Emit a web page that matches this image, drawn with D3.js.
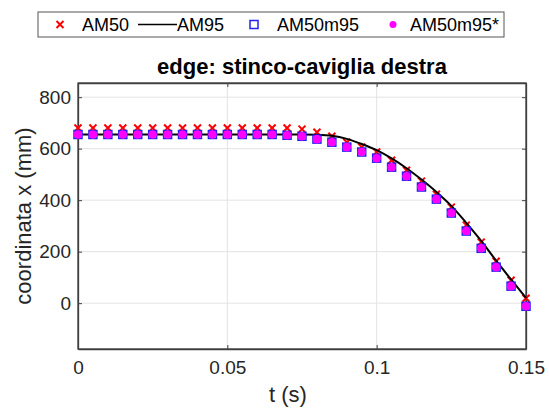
<!DOCTYPE html>
<html><head><meta charset="utf-8">
<script src="https://cdn.jsdelivr.net/npm/d3@7"></script>
<style>body{margin:0;background:#fff}text{font-family:Arial,"Liberation Sans",sans-serif}</style>
</head><body><svg id="c" width="549" height="414"></svg>
<script>
const t = d3.range(31).map(i => +(i*0.005).toFixed(3));
const am50 = [680,680,680,680,680,680,680,680,680,680,680,680,680,680,680,676,664,648,625,606,587,555,516,474,423,373,303,237,163,89,19];
const am95 = [655,655,655,655,655,655,655,655,655,655,655,655,655,655,655,655,654,650,638,618,594,562,524,480,432,378,312,242,165,92,20];
const am50m95 = [655,655,655,655,655,655,655,655,655,655,655,655,655,655,652,648,637,625,606,587,563,528,493,451,404,350,280,213,140,66,-12];
const am50m95s = [655,655,655,655,655,655,655,655,655,655,655,655,655,655,652,648,637,625,606,587,563,528,493,451,404,350,280,213,140,66,-12];
const xTicks = [0,0.05,0.1,0.15];
const xTickLabels = ["0","0.05","0.1","0.15"];
const yTicks = [0,200,400,600,800];
const legendNames = ["AM50","AM95","AM50m95","AM50m95*"];
const title = "edge: stinco-caviglia destra";

const svg = d3.select("#c");
const L=78,R=526,T=83,B=349;
const x = d3.scaleLinear().domain([0,0.15]).range([L,R]);
const y = d3.scaleLinear().domain([-178,855]).range([B,T]);
const ax="#404040", grid="#e3e3e3";

svg.append("rect").attr("x",L).attr("y",T).attr("width",R-L).attr("height",B-T).attr("fill","#fff");
// grid
svg.append("g").selectAll("line").data(xTicks.slice(1,-1)).join("line")
 .attr("x1",d=>x(d)).attr("x2",d=>x(d)).attr("y1",T).attr("y2",B).attr("stroke",grid);
svg.append("g").selectAll("line").data(yTicks).join("line")
 .attr("y1",d=>y(d)).attr("y2",d=>y(d)).attr("x1",L).attr("x2",R).attr("stroke",grid);

// axes
const xa = svg.append("g").attr("transform",`translate(0,${B})`)
 .call(d3.axisBottom(x).tickValues(xTicks).tickFormat((d,i)=>xTickLabels[i]).tickSizeInner(-4).tickSizeOuter(0).tickPadding(12));
const xa2 = svg.append("g").attr("transform",`translate(0,${T})`)
 .call(d3.axisTop(x).tickValues(xTicks).tickFormat("").tickSizeInner(-4).tickSizeOuter(0));
const ya = svg.append("g").attr("transform",`translate(${L},0)`)
 .call(d3.axisLeft(y).tickValues(yTicks).tickSizeInner(-4).tickSizeOuter(0).tickPadding(7));
const ya2 = svg.append("g").attr("transform",`translate(${R},0)`)
 .call(d3.axisRight(y).tickValues(yTicks).tickFormat("").tickSizeInner(-4).tickSizeOuter(0));
[xa,xa2,ya,ya2].forEach(g=>{
  g.selectAll("path").attr("stroke",ax).attr("stroke-width",1.3);
  g.selectAll("line").attr("stroke",ax);
  g.selectAll("text").attr("fill","#262626").style("font-size","19px").style("font-family","Arial, 'Liberation Sans', sans-serif");
});
svg.append("rect").attr("x",L).attr("y",T).attr("width",R-L).attr("height",B-T).attr("fill","none").attr("stroke",ax).attr("stroke-width",1.3);

const idx = d3.range(t.length);
const clipG = svg.append("g");
// AM50 red x
const xs=3.5;
clipG.append("g").selectAll("path").data(idx).join("path")
 .attr("d",i=>{const cx=x(t[i]),cy=y(am50[i]);return `M${cx-xs},${cy-xs}L${cx+xs},${cy+xs}M${cx-xs},${cy+xs}L${cx+xs},${cy-xs}`;})
 .attr("stroke","#ff0000").attr("stroke-width",2).attr("fill","none");
// AM95 line
clipG.append("path").datum(idx).attr("d",d3.line().x(i=>x(t[i])).y(i=>y(am95[i])).curve(d3.curveMonotoneX))
 .attr("fill","none").attr("stroke","#000").attr("stroke-width",2);
// AM50m95 squares
const s=4;
clipG.append("g").selectAll("rect").data(idx).join("rect")
 .attr("x",i=>x(t[i])-s).attr("y",i=>y(am50m95[i])-s).attr("width",2*s).attr("height",2*s)
 .attr("fill","none").attr("stroke","#2222ee").attr("stroke-width",1.5);
// AM50m95* dots
clipG.append("g").selectAll("circle").data(idx).join("circle")
 .attr("cx",i=>x(t[i])).attr("cy",i=>y(am50m95s[i])).attr("r",4.3).attr("fill","#ff00ff");

// title & labels
svg.append("text").attr("x",302).attr("y",74).attr("text-anchor","middle").style("font-size","22px").style("font-weight","bold").attr("fill","#000").text(title);
svg.append("text").attr("x",288).attr("y",402).attr("text-anchor","middle").style("font-size","22px").attr("fill","#262626").text("t (s)");
svg.append("text").attr("transform","translate(31,216) rotate(-90)").attr("text-anchor","middle").style("font-size","22px").attr("fill","#262626").text("coordinata x (mm)");

// legend
const lg = svg.append("g");
lg.append("rect").attr("x",38).attr("y",12).attr("width",466).attr("height",25).attr("fill","#fff").attr("stroke","#555").attr("stroke-width",1);
const ly=24.5;
lg.append("path").attr("d",`M${60-xs},${ly-xs}L${60+xs},${ly+xs}M${60-xs},${ly+xs}L${60+xs},${ly-xs}`).attr("stroke","#ff0000").attr("stroke-width",2);
lg.append("line").attr("x1",138).attr("x2",177).attr("y1",ly).attr("y2",ly).attr("stroke","#000").attr("stroke-width",1.5);
lg.append("rect").attr("x",254-s).attr("y",ly-s).attr("width",2*s).attr("height",2*s).attr("fill","none").attr("stroke","#2222ee").attr("stroke-width",1.5);
lg.append("circle").attr("cx",393).attr("cy",ly).attr("r",3.5).attr("fill","#ff00ff");
const lx=[82,177,277,410];
lg.selectAll("text.l").data(legendNames).join("text").attr("class","l")
 .attr("x",(d,i)=>lx[i]).attr("y",ly+6.5).style("font-size","18px").attr("fill","#000").text(d=>d);
</script></body></html>
